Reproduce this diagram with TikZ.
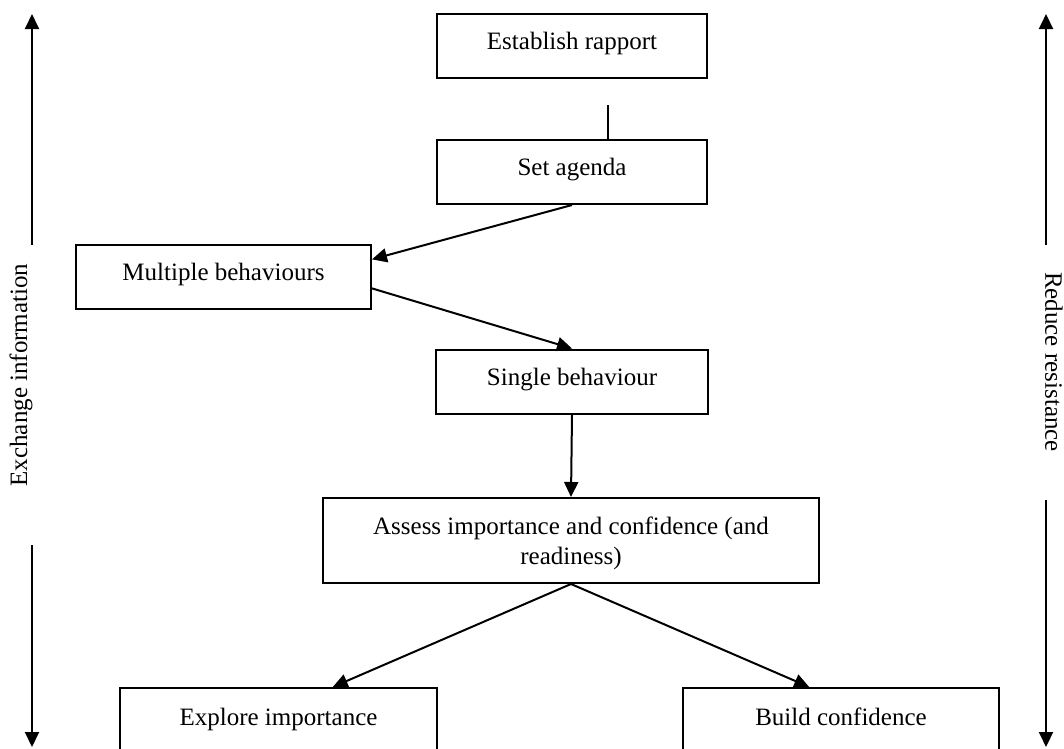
\documentclass[tikz,border=0pt]{standalone}
\usepackage{fontspec}
\setmainfont{Liberation Serif}
\usetikzlibrary{arrows.meta,calc}
\begin{document}
\begin{tikzpicture}[x=1pt,y=-1pt,
  every node/.style={font=\fontsize{25}{29.5}\selectfont},
  stagebox/.style={draw,line width=2pt,text height=17pt,text depth=10pt,
    inner xsep=0pt,inner ysep=0pt,minimum height=64pt},
  openbox/.style={stagebox,anchor=north,text depth=60pt,inner ysep=20pt},
  link/.style={line width=2pt,-{Triangle[length=15pt,width=14pt]}},
  plainlink/.style={line width=2pt},
  sidetext/.style={inner sep=0pt}
]
\useasboundingbox (0,0) rectangle (1064,748);
\clip (0,0) rectangle (1064,748);

% stages of the consultation
\node[stagebox,minimum width=270pt] (rapport) at (572,46) {Establish rapport};
\node[stagebox,minimum width=270pt] (agenda) at (572,172) {Set agenda};
\node[stagebox,minimum width=295pt] (multi) at (223.5,276.5) {Multiple behaviours};
\node[stagebox,minimum width=272pt] (single) at (572,381.5) {Single behaviour};
\node[draw,line width=2pt,minimum width=496pt,minimum height=85pt,align=center,inner sep=0pt]
  (assess) at (571,540.5) {\rule{0pt}{23pt}Assess importance and confidence (and\\readiness)};
\node[openbox,minimum width=317pt] (explore) at (278.5,687) {Explore importance};
\node[openbox,minimum width=316pt] (build) at (841,687) {Build confidence};

% connectors between stages
\coordinate (gaptop) at (608,105);
\draw[plainlink] (gaptop) -- (gaptop |- agenda.north);
\draw[link] (agenda.south) -- ($(multi.north east)!0.24!(multi.south east)$);
\draw[link] ($(multi.north east)!0.68!(multi.south east)$) -- (single.north);
\draw[link] (single.south) -- (assess.north);
\draw[link] (assess.south) -- ($(explore.north west)!0.67!(explore.north east)$);
\draw[link] (assess.south) -- ($(build.north west)!0.4!(build.north east)$);

% left side: exchange information
\coordinate (lefttop) at (32,14);
\coordinate (leftupper) at (32,245);
\coordinate (leftlower) at (32,545);
\coordinate (leftbottom) at (32,747);
\node[sidetext,rotate=90] (exchange) at (21,375) {Exchange information};
\draw[link] (leftupper) -- (lefttop);
\draw[link] (leftlower) -- (leftbottom);

% right side: reduce resistance
\coordinate (righttop) at (1046,14);
\coordinate (rightupper) at (1046,245);
\coordinate (rightlower) at (1046,500);
\coordinate (rightbottom) at (1046,747);
\node[sidetext,rotate=-90] (reduce) at (1054,362) {Reduce resistance};
\draw[link] (rightupper) -- (righttop);
\draw[link] (rightlower) -- (rightbottom);
\end{tikzpicture}
\end{document}
